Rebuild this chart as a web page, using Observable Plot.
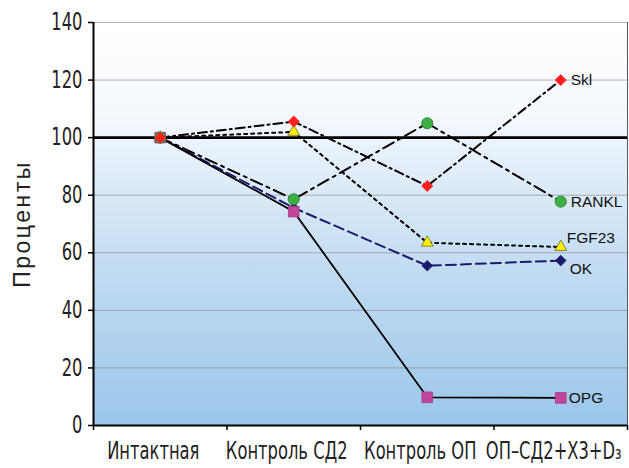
<!DOCTYPE html>
<html>
<head>
<meta charset="utf-8">
<script src="https://cdn.jsdelivr.net/npm/d3@7"></script>
<script src="https://cdn.jsdelivr.net/npm/@observablehq/plot@0.6"></script>
<style>
  html, body { margin: 0; padding: 0; background: #fff; }
  #chart { width: 629px; height: 468px; overflow: hidden; }
</style>
</head>
<body>
<svg width="0" height="0" style="position:absolute">
  <defs>
    <linearGradient id="bgGrad" x1="0" y1="0" x2="0" y2="1">
      <stop offset="0" stop-color="#ffffff"/>
      <stop offset="0.22" stop-color="#f5f9fe"/>
      <stop offset="0.6" stop-color="#c3dcf2"/>
      <stop offset="1" stop-color="#9bc6ea"/>
    </linearGradient>
  </defs>
</svg>
<div id="chart"></div>
<script>
// ---- data ----
const categories = ["Интактная", "Контроль СД2", "Контроль ОП", "ОП–СД2+Х3+D₃"];
const seriesNames = ["FGF23", "OK", "OPG", "RANKL", "Skl"];
const opg   = [100, 74.3, 9.8, 9.6];
const ok    = [100, 75.6, 55.5, 57.3];
const fgf23 = [100, 102, 63.5, 62];
const rankl = [100, 78.6, 105, 77.8];
const skl   = [100, 105.6, 83.2, 120];
const yTicks = [0, 20, 40, 60, 80, 100, 120, 140];
const yTitle = "Проценты";

const valuesBy = {OPG: opg, OK: ok, FGF23: fgf23, RANKL: rankl, Skl: skl};

// ---- styles (not data) ----
const styles = {
  OPG:   {stroke: "#000000", dash: null,        width: 1.8, symbol: "square",   r: 6.0, fill: "#c2459c", ms: "#a83a88", dx: 8,  dy: 0},
  OK:    {stroke: "#1b1b6e", dash: "10,5",      width: 2,   symbol: "diamond2", r: 4.8, fill: "#1b1b6e", ms: "#1b1b6e", dx: 9,  dy: 8},
  FGF23: {stroke: "#000000", dash: "3,4",       width: 2,   symbol: "triangle", r: 4.4, fill: "#ffee00", ms: "#6b6b30", dx: 6,  dy: -9},
  RANKL: {stroke: "#000000", dash: "12,5,3,5",  width: 2,   symbol: "circle",   r: 5.6, fill: "#3caf45", ms: "#2a7a30", dx: 10, dy: 0},
  Skl:   {stroke: "#000000", dash: "9,4,2,4",   width: 2,   symbol: "diamond2", r: 5.0, fill: "#ff1f1f", ms: "#ff1f1f", dx: 10, dy: 0}
};

const rows = seriesNames.flatMap(name => valuesBy[name].map((v, i) => ({name, i, v})));

const marks = [
  Plot.frame({fill: "url(#bgGrad)", stroke: null}),
  Plot.gridY(yTicks, {stroke: "#7a7a7a", strokeOpacity: 0.55, strokeWidth: 1}),
  Plot.ruleX([3.5], {stroke: "#555", strokeWidth: 1}),
  Plot.ruleY([100], {stroke: "#000", strokeWidth: 2.6}),
  Plot.ruleX([-0.5], {stroke: "#000", strokeWidth: 2}),
  Plot.ruleY([0], {stroke: "#000", strokeWidth: 2}),
  Plot.axisY(yTicks, {tickSize: 5, tickPadding: 6, stroke: "#000", strokeWidth: 1.5, fill: "#222", label: null}),
  Plot.axisX([-0.5, 0.5, 1.5, 2.5, 3.5], {tickSize: 5, stroke: "#000", strokeWidth: 1.5, tickFormat: () => "", label: null}),
  Plot.axisX([0, 1, 2, 3], {tickSize: 0, tickPadding: 16, dx: -7, fill: "#222", tickFormat: i => categories[i], label: null}),
];

for (const name of seriesNames) {
  const s = styles[name];
  const data = rows.filter(d => d.name === name);
  marks.push(Plot.line(data, {x: "i", y: "v", stroke: s.stroke, strokeWidth: s.width, strokeDasharray: s.dash, curve: "linear"}));
}
for (const name of seriesNames) {
  const s = styles[name];
  const data = rows.filter(d => d.name === name);
  marks.push(Plot.dot(data, {x: "i", y: "v", symbol: s.symbol, r: s.r, fill: s.fill, stroke: s.ms, strokeWidth: 0.8}));
  marks.push(Plot.text(data.filter(d => d.i === categories.length - 1), {
    x: "i", y: "v", text: "name", textAnchor: "start", dx: s.dx, dy: s.dy,
    fontSize: 15.5, fontFamily: "Liberation Sans, Arial, sans-serif", fill: "#111"
  }));
}

marks.push(Plot.text([yTitle], {frameAnchor: "left", textAnchor: "middle", dx: -71, rotate: -90, fontSize: 23,
  fontFamily: "Liberation Sans, Arial, sans-serif", fill: "#222"}));

const chart = Plot.plot({
  width: 629,
  height: 468,
  marginLeft: 93,
  marginRight: 2,
  marginTop: 22,
  marginBottom: 43,
  x: {type: "linear", domain: [-0.5, 3.5]},
  y: {domain: [0, 140]},
  style: {fontFamily: "'DejaVu Sans', sans-serif", fontSize: "24px", background: "transparent"},
  marks
});

d3.select(chart).selectAll("text").filter(function() { return this.textContent === yTitle; })
  .style("letter-spacing", "2.5px");

document.getElementById("chart").appendChild(chart);

// condensed look for the axis tick labels: horizontal squeeze around each label's anchor point
const squeeze = 0.68;
d3.select(chart).selectAll('g[aria-label$="tick label"] text').each(function() {
  const bb = this.getBBox();
  const anchor = getComputedStyle(this).textAnchor;
  const ax = anchor === "end" ? bb.x + bb.width : anchor === "middle" ? bb.x + bb.width / 2 : bb.x;
  const t = this.getAttribute("transform") || "";
  this.setAttribute("transform", `${t} translate(${ax},0) scale(${squeeze},1) translate(${-ax},0)`);
});
</script>
</body>
</html>
